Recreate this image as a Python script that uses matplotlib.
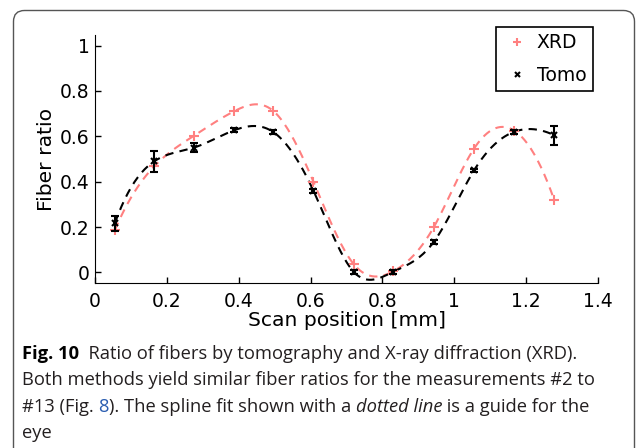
import matplotlib.pyplot as plt
import numpy as np
from matplotlib.patches import FancyBboxPatch

plt.rcParams['font.family'] = 'DejaVu Sans'

# scan positions [mm] and fiber ratios
pos = [0.055, 0.165, 0.275, 0.388, 0.496, 0.608, 0.72, 0.83, 0.943, 1.055, 1.167, 1.278]
xrd = [0.186, 0.468, 0.602, 0.711, 0.712, 0.40, 0.037, 0.005, 0.20, 0.546, 0.625, 0.32]
tomo = [0.216, 0.49, 0.55, 0.627, 0.619, 0.36, 0.003, 0.003, 0.135, 0.45, 0.62, 0.605]
tomo_err = [0.035, 0.047, 0.02, 0.008, 0.008, 0.008, 0.008, 0.008, 0.008, 0.008, 0.008, 0.042]

xticks = [0, 0.2, 0.4, 0.6, 0.8, 1, 1.2, 1.4]
yticks = [0, 0.2, 0.4, 0.6, 0.8, 1]

xrd_color = '#ff8080'


def spline(x, y, xs):
    # cubic spline with not-a-knot ends (like matlab's spline)
    x = np.asarray(x, float)
    y = np.asarray(y, float)
    n = len(x)
    h = np.diff(x)
    A = np.zeros((n, n))
    b = np.zeros(n)
    for i in range(1, n - 1):
        A[i, i - 1] = h[i - 1]
        A[i, i] = 2 * (h[i - 1] + h[i])
        A[i, i + 1] = h[i]
        b[i] = 6 * ((y[i + 1] - y[i]) / h[i] - (y[i] - y[i - 1]) / h[i - 1])
    A[0, 0], A[0, 1], A[0, 2] = h[1], -(h[0] + h[1]), h[0]
    A[-1, -3], A[-1, -2], A[-1, -1] = h[-1], -(h[-2] + h[-1]), h[-2]
    M = np.linalg.solve(A, b)
    idx = np.clip(np.searchsorted(x, xs) - 1, 0, n - 2)
    x0, x1 = x[idx], x[idx + 1]
    hh = x1 - x0
    return (M[idx] * (x1 - xs) ** 3 / (6 * hh) + M[idx + 1] * (xs - x0) ** 3 / (6 * hh)
            + (y[idx] / hh - M[idx] * hh / 6) * (x1 - xs)
            + (y[idx + 1] / hh - M[idx + 1] * hh / 6) * (xs - x0))


fig = plt.figure(figsize=(6.37, 4.48), dpi=100)

# rounded frame around figure + caption
frame = FancyBboxPatch((13.5, -30), 621, 467.5, boxstyle='round,pad=0,rounding_size=11',
                       transform=None, facecolor='none', edgecolor='#555555', lw=1.0)
fig.patches.append(frame)

ax = fig.add_axes([95 / 637, 1 - 282.7 / 448, 503 / 637, 247.4 / 448])

xs = np.linspace(pos[0], pos[-1], 400)
ax.plot(xs, spline(pos, xrd, xs), color=xrd_color, lw=1.5, dashes=(4, 3))
ax.plot(xs, spline(pos, tomo, xs), color='black', lw=1.5, dashes=(4, 3))
ax.plot(pos, xrd, '+', color=xrd_color, ms=7, mew=1.5, label='XRD')
ax.errorbar(pos, tomo, yerr=tomo_err, fmt='none', ecolor='black',
            elinewidth=1.5, capsize=3, capthick=1.5)
ax.plot(pos, tomo, 'x', color='black', ms=4.5, mew=1.5, label='Tomo')

ax.set_xlim(0, 1.4)
ax.set_ylim(-0.045, 1.045)
ax.set_xticks(xticks)
ax.set_xticklabels(['0', '0.2', '0.4', '0.6', '0.8', '1', '1.2', '1.4'])
ax.set_yticks(yticks)
ax.set_yticklabels(['0', '0.2', '0.4', '0.6', '0.8', '1'])
ax.tick_params(direction='in', length=4, width=1, labelsize=13.5, pad=4)
ax.tick_params(axis='x', pad=7)
for s in ['top', 'right']:
    ax.spines[s].set_visible(False)
ax.set_xlabel('Scan position [mm]', fontsize=14.6, labelpad=0)
ax.set_ylabel('Fiber ratio', fontsize=14.6, labelpad=3)

leg = ax.legend(loc='upper right', bbox_to_anchor=(593 / 637, 1 - 26.7 / 448),
                bbox_transform=fig.transFigure, fontsize=13.5, fancybox=False,
                edgecolor='black', framealpha=1, handlelength=1.57, handletextpad=0.25,
                borderpad=0.35, labelspacing=0.71, borderaxespad=0, markerscale=0.8)
leg.get_frame().set_linewidth(1.2)

# caption, built piece by piece
cap = dict(fontsize=13.2, family='Open Sans', color='#231f20', va='bottom')


def after(prev, s, **kw):
    return ax.annotate(s, xy=(1, 0), xycoords=prev, annotation_clip=False, **{**cap, **kw})


def line(y_base, s, **kw):
    # y_base: baseline in pixels from the top; text anchored at its descent
    return fig.text(22 / 637, 1 - (y_base + 4.5) / 448, s, **{**cap, **kw})


t = line(358, 'Fig. 10', fontweight='bold', color='black')
after(t, '  Ratio of fibers by tomography and X-ray diffraction (XRD).')
line(384.5, 'Both methods yield similar fiber ratios for the measurements #2 to')
t = line(411, '#13 (Fig. ')
t = after(t, '8', color='#2a5db0')
t = after(t, '). The spline fit shown with a ')
t = after(t, 'dotted line', style='italic')
after(t, ' is a guide for the')
line(437.5, 'eye')

fig.savefig('out.png', dpi=100)
